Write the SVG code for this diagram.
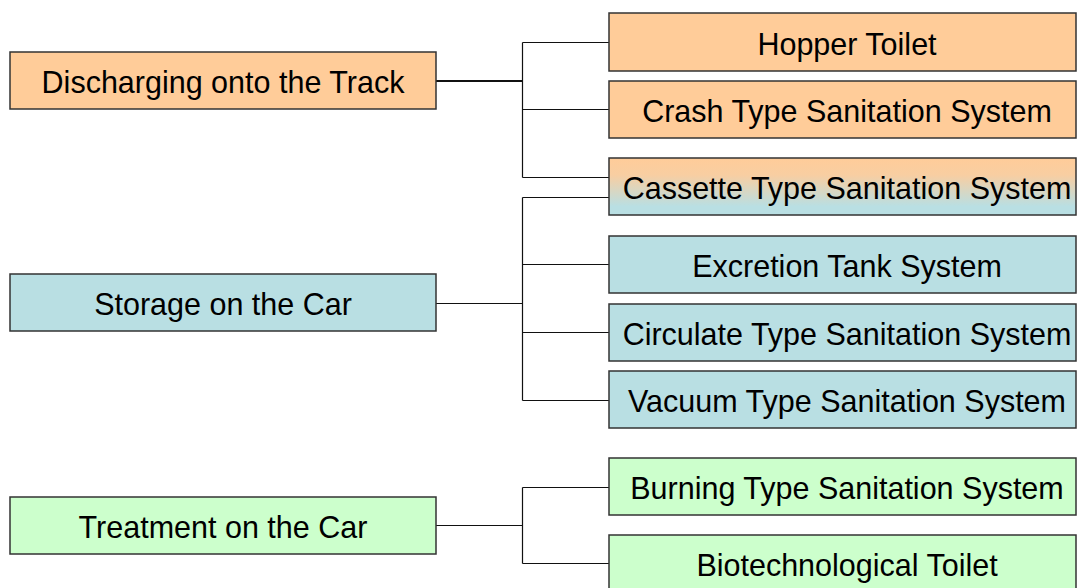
<svg xmlns="http://www.w3.org/2000/svg" width="1077" height="588" viewBox="0 0 1077 588">
<style>
.b{stroke:#333;stroke-width:1.5}
.o{fill:#FFCC99}
.c{fill:#B9DFE3}
.g{fill:#CCFFCC}
text{font-family:"Liberation Sans",Arial,sans-serif;font-size:30.5px;fill:#000;text-anchor:middle;dominant-baseline:central}
.k{fill:none;stroke:#111;stroke-width:1.2}
</style>
<defs>
<linearGradient id="grad" x1="0" y1="0" x2="0" y2="1">
<stop offset="0" stop-color="#FFCC99"/>
<stop offset="0.3" stop-color="#F8CEA2"/>
<stop offset="0.85" stop-color="#B9DFE3"/>
<stop offset="1" stop-color="#B9DFE3"/>
</linearGradient>
</defs>
<rect width="1077" height="588" fill="#fff"/>
<g id="connectors">
<path class="k" d="M522.5 42.5V177.5M522.5 42.5H609M522.5 109.5H609M522.5 177.5H609"/>
<path class="k" d="M436 81H522.5" style="stroke-width:2"/>
<path class="k" d="M436 303.5H522.5M522.5 197.5V400.5M522.5 197.5H609M522.5 264.5H609M522.5 332.5H609M522.5 400.5H609"/>
<path class="k" d="M436 525.5H522.5M522.5 487.5V563.5M522.5 487.5H609M522.5 563.5H609"/>
</g>
<g id="n-discharging"><rect class="b o" x="10" y="52" width="426" height="57"/><text x="223" y="81.5">Discharging onto the Track</text></g>
<g id="n-storage"><rect class="b c" x="10" y="274" width="426" height="57"/><text x="223" y="303.5">Storage on the Car</text></g>
<g id="n-treatment"><rect class="b g" x="10" y="497" width="426" height="57"/><text x="223" y="526.5">Treatment on the Car</text></g>
<g id="n-hopper"><rect class="b o" x="609" y="13" width="467" height="58"/><text x="847" y="43.5">Hopper Toilet</text></g>
<g id="n-crash"><rect class="b o" x="609" y="81" width="467" height="57"/><text x="847" y="110.5">Crash Type Sanitation System</text></g>
<g id="n-cassette"><rect class="b" fill="url(#grad)" x="609" y="158" width="467" height="57"/><text x="847" y="187.5">Cassette Type Sanitation System</text></g>
<g id="n-excretion"><rect class="b c" x="609" y="236" width="467" height="57"/><text x="847" y="265.5">Excretion Tank System</text></g>
<g id="n-circulate"><rect class="b c" x="609" y="304" width="467" height="57"/><text x="847" y="333.5">Circulate Type Sanitation System</text></g>
<g id="n-vacuum"><rect class="b c" x="609" y="371" width="467" height="57"/><text x="847" y="400.5">Vacuum Type Sanitation System</text></g>
<g id="n-burning"><rect class="b g" x="609" y="458" width="467" height="57"/><text x="847" y="487.5">Burning Type Sanitation System</text></g>
<g id="n-biotech"><rect class="b g" x="609" y="535" width="467" height="60"/><text x="847" y="564.5">Biotechnological Toilet</text></g>
</svg>
